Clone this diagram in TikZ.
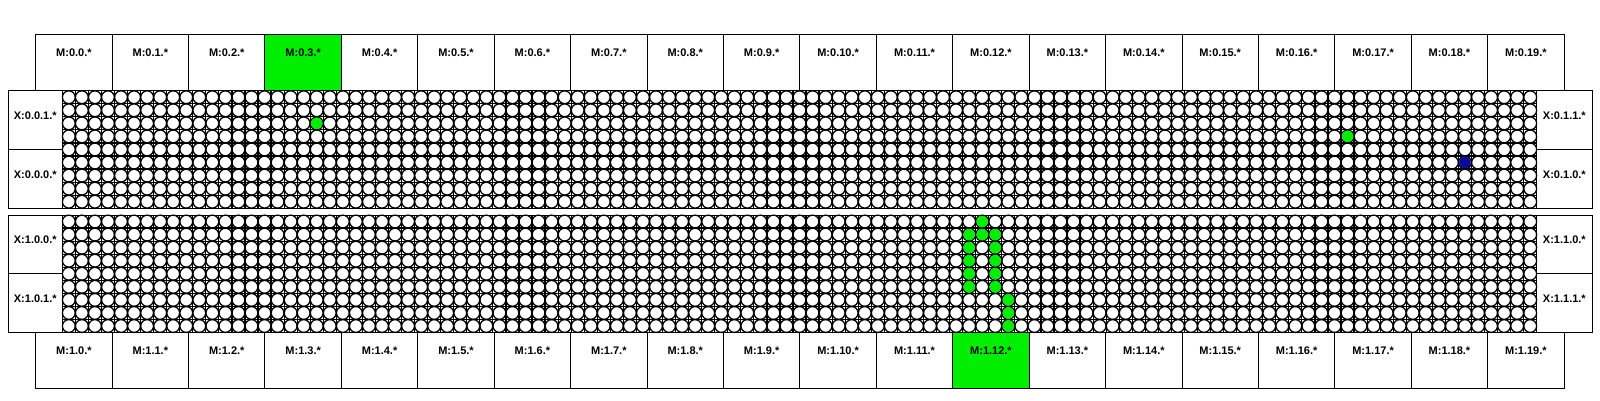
\documentclass[tikz,border=0pt]{standalone}
\usepackage{fontspec}
\setmainfont{Liberation Sans}
\usetikzlibrary{calc}
\definecolor{hitgreen}{RGB}{0,238,0}
\definecolor{hitblue}{RGB}{10,10,160}
\tikzset{
  box/.style={draw=black, line width=1pt, inner sep=0pt, outer sep=0pt, anchor=north west},
  lbl/.style={font=\bfseries\fontsize{11}{13}\selectfont, inner sep=0pt},
  cellc/.style={draw=black, fill=white, line width=1.3pt},
  gline/.style={draw=black, line width=1.2pt},
  hitg/.style={fill=hitgreen},
  hitb/.style={fill=hitblue},
}
\begin{document}
\begin{tikzpicture}[x=1pt,y=-1pt]
\useasboundingbox (0,0) rectangle (1600,400);
% ---------- grids (circles + lines) ----------
\foreach \T in {90.7,215} {
  \foreach \r in {0,...,8} {
    \foreach \c in {0,...,112} {
      \draw[cellc] ({62.3+(\c+0.5)*13.048},{\T+(\r+0.5)*13.06}) circle (6.4pt);
    }
  }
  \foreach \c in {1,...,112} {
    \draw[gline] ({62.3+\c*13.048},\T) -- ++(0,117.5);
  }
  \foreach \r in {1,...,8} {
    \draw[gline] (62.3,{\T+\r*13.06}) -- (1536.7,{\T+\r*13.06});
  }
}
% ---------- hits ----------
\foreach \r/\c in {2/19,3/98} {
  \fill[hitg] ({62.3+(\c+0.5)*13.048},{90.7+(\r+0.5)*13.06}) circle (5.8pt);
}
\fill[hitb] ({62.3+(107+0.5)*13.048},{90.7+(5+0.5)*13.06}) circle (5.8pt);
\foreach \r/\c in {0/70,1/69,1/70,1/71,2/69,2/71,3/69,3/71,4/69,4/71,5/69,5/71,6/72,7/72,8/72} {
  \fill[hitg] ({62.3+(\c+0.5)*13.048},{215+(\r+0.5)*13.06}) circle (5.8pt);
}
% ---------- panels ----------
\node[box, minimum width=1583.7pt, minimum height=117.5pt] (p0) at (8.3,90.7) {};
\node[box, minimum width=1583.7pt, minimum height=117.5pt] (p1) at (8.3,215) {};
% label cells
\foreach \T/\p in {90.7/0,215/1} {
  \node[box, minimum width=54pt, minimum height=58.75pt] (xl\p a) at (8.3,\T) {};
  \node[box, minimum width=54pt, minimum height=58.75pt] (xl\p b) at (8.3,{\T+58.75}) {};
  \node[box, minimum width=55.3pt, minimum height=58.75pt] (xr\p a) at (1536.7,\T) {};
  \node[box, minimum width=55.3pt, minimum height=58.75pt] (xr\p b) at (1536.7,{\T+58.75}) {};
}
\node[lbl] (t0la) at ($(xl0a.north)+(0,25)$) {X:0.0.1.*};
\node[lbl] (t0lb) at ($(xl0b.north)+(0,25)$) {X:0.0.0.*};
\node[lbl] (t0ra) at ($(xr0a.north)+(0,25)$) {X:0.1.1.*};
\node[lbl] (t0rb) at ($(xr0b.north)+(0,25)$) {X:0.1.0.*};
\node[lbl] (t1la) at ($(xl1a.north)+(0,25)$) {X:1.0.0.*};
\node[lbl] (t1lb) at ($(xl1b.north)+(0,25)$) {X:1.0.1.*};
\node[lbl] (t1ra) at ($(xr1a.north)+(0,25)$) {X:1.1.0.*};
\node[lbl] (t1rb) at ($(xr1b.north)+(0,25)$) {X:1.1.1.*};
% ---------- M boxes ----------
\foreach \i in {0,...,19} {
  \pgfmathsetmacro{\xx}{35.7+\i*76.42}
  \ifnum\i=3
    \node[box, hitg, minimum width=76.42pt, minimum height=56.4pt] (m0\i) at (\xx,34.3) {};
  \else
    \node[box, minimum width=76.42pt, minimum height=56.4pt] (m0\i) at (\xx,34.3) {};
  \fi
  \node[lbl] (m0\i t) at ($(m0\i.north)+(0,18)$) {M:0.\i.*};
  \ifnum\i=12
    \node[box, hitg, minimum width=76.42pt, minimum height=56.4pt] (m1\i) at (\xx,332.5) {};
  \else
    \node[box, minimum width=76.42pt, minimum height=56.4pt] (m1\i) at (\xx,332.5) {};
  \fi
  \node[lbl] (m1\i t) at ($(m1\i.north)+(0,18)$) {M:1.\i.*};
}
\end{tikzpicture}
\end{document}
